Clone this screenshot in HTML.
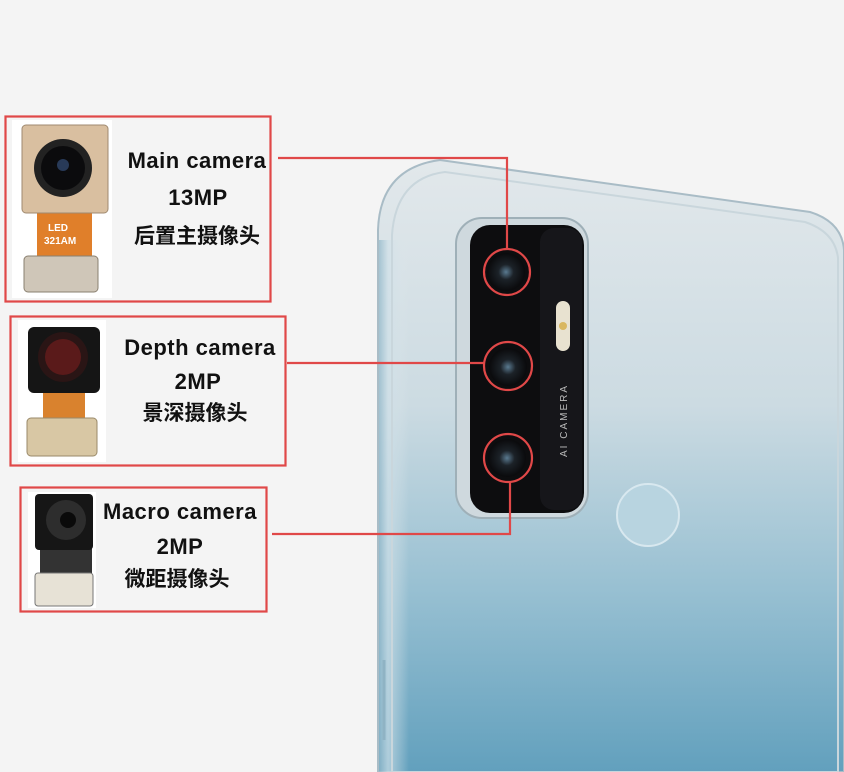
<!DOCTYPE html>
<html><head><meta charset="utf-8"><style>
html,body{margin:0;padding:0;background:#f4f4f4}
svg{display:block}
text{font-family:"Liberation Sans","Noto Sans CJK SC",sans-serif;font-weight:bold;fill:#111}
</style></head><body>
<svg width="844" height="772" viewBox="0 0 844 772" xmlns="http://www.w3.org/2000/svg">
<defs>
<linearGradient id="ph" x1="0" y1="0" x2="0" y2="1">
<stop offset="0" stop-color="#e2e8eb"/><stop offset="0.4" stop-color="#ccdbe2"/><stop offset="0.7" stop-color="#98c0d2"/><stop offset="1" stop-color="#62a0bd"/>
</linearGradient>
<linearGradient id="ph2" x1="0" y1="0" x2="1" y2="0">
<stop offset="0" stop-color="#8fb6c8"/><stop offset="0.3" stop-color="#cfe0e8"/><stop offset="1" stop-color="#dfe7ea" stop-opacity="0"/>
</linearGradient>
<radialGradient id="ln"><stop offset="0" stop-color="#5a7a90"/><stop offset="0.4" stop-color="#1c2228"/><stop offset="1" stop-color="#0a0a0c"/></radialGradient>
</defs>
<rect width="844" height="772" fill="#f4f4f4"/>
<path d="M378 772 L378 230 Q380 168 440 160 L810 212 Q842 222 844 250 L844 772 Z" fill="url(#ph)" stroke="#a9bcc6" stroke-width="2"/>
<rect x="379" y="240" width="30" height="532" fill="url(#ph2)" opacity="0.7"/>
<path d="M392 772 L392 235 Q396 178 445 172 L805 222 Q835 232 838 258 L838 772 Z" fill="none" stroke="#c9d6dc" stroke-width="2"/>
<line x1="384" y1="660" x2="384" y2="740" stroke="#8fb3c4" stroke-width="3"/>
<rect x="456" y="218" width="132" height="300" rx="26" fill="#cfd9de" stroke="#9fb0b8" stroke-width="2"/>
<rect x="470" y="225" width="114" height="288" rx="20" fill="#0d0d0f"/>
<rect x="540" y="228" width="42" height="282" rx="14" fill="#16161a"/>
<circle cx="506" cy="272" r="19" fill="url(#ln)"/>
<circle cx="508" cy="367" r="19" fill="url(#ln)"/>
<circle cx="507" cy="458" r="19" fill="url(#ln)"/>
<rect x="556" y="301" width="14" height="50" rx="7" fill="#e8e2d0"/>
<circle cx="563" cy="326" r="4" fill="#d9b760"/>
<text x="0" y="0" transform="translate(567,457) rotate(-90)" font-size="10" style="font-weight:normal;fill:#bbb;letter-spacing:2px">AI CAMERA</text>
<circle cx="648" cy="515" r="31" fill="#b8d4e0" stroke="#d8e8ef" stroke-width="2"/>
<g fill="none" stroke="#e04848" stroke-width="2.2">
<circle cx="507" cy="272" r="23"/>
<circle cx="508" cy="366" r="24"/>
<circle cx="508" cy="458" r="24"/>
<rect x="5.5" y="116.5" width="265" height="185"/>
<rect x="10.5" y="316.5" width="275" height="149"/>
<rect x="20.5" y="487.5" width="246" height="124"/>
<polyline points="278,158 507,158 507,249"/>
<line x1="287" y1="363" x2="484" y2="363"/>
<polyline points="272,534 510,534 510,482"/>
</g>
<rect x="12" y="120" width="100" height="178" fill="#fff"/>
<rect x="37" y="210" width="55" height="52" fill="#e07f2a"/>
<rect x="24" y="256" width="74" height="36" rx="4" fill="#cfc6b8" stroke="#8a8070"/>
<rect x="22" y="125" width="86" height="88" rx="4" fill="#d9bfa0" stroke="#a08a70"/>
<circle cx="63" cy="168" r="29" fill="#222"/><circle cx="63" cy="168" r="22" fill="#0b0b0d"/><circle cx="63" cy="165" r="6" fill="#283a58"/>
<text x="48" y="231" font-size="10" style="fill:#fff">LED</text><text x="44" y="244" font-size="10" style="fill:#fff">321AM</text>
<rect x="18" y="320" width="88" height="142" fill="#fff"/>
<rect x="43" y="388" width="42" height="34" fill="#d9822e"/>
<rect x="27" y="418" width="70" height="38" rx="4" fill="#d8c7a4" stroke="#9a8a6a"/>
<rect x="28" y="327" width="72" height="66" rx="6" fill="#151515"/>
<circle cx="63" cy="357" r="25" fill="#2a1515"/><circle cx="63" cy="357" r="18" fill="#5a1a1a"/>
<rect x="28" y="492" width="68" height="116" fill="#fff"/>
<rect x="40" y="545" width="52" height="32" fill="#333"/>
<rect x="35" y="573" width="58" height="33" rx="3" fill="#e7e2d6" stroke="#777"/>
<rect x="35" y="494" width="58" height="56" rx="4" fill="#161616"/>
<circle cx="66" cy="520" r="20" fill="#2d2d2d"/><circle cx="68" cy="520" r="8" fill="#0a0a0a"/>
<g text-anchor="middle" font-size="22" style="letter-spacing:0.5px">
<text x="197" y="168">Main camera</text>
<text x="198" y="205">13MP</text>
<text x="197" y="243" font-size="21" style="letter-spacing:0">后置主摄像头</text>
<text x="200" y="355">Depth camera</text>
<text x="198" y="389">2MP</text>
<text x="195" y="420" font-size="21" style="letter-spacing:0">景深摄像头</text>
<text x="180" y="519">Macro camera</text>
<text x="180" y="554">2MP</text>
<text x="177" y="586" font-size="21" style="letter-spacing:0">微距摄像头</text>
</g>
</svg>
</body></html>
